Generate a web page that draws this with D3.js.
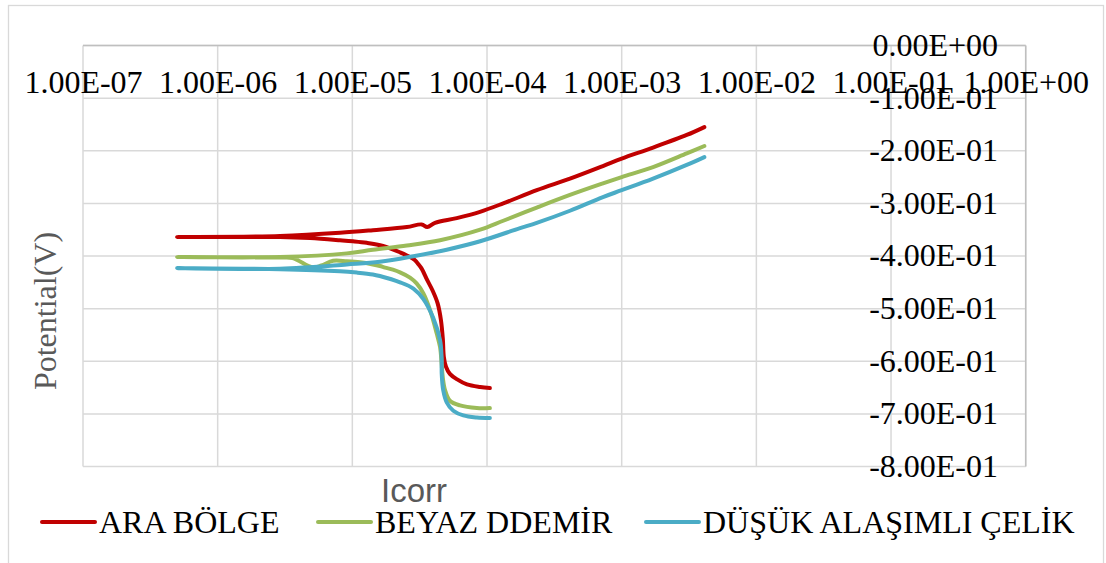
<!DOCTYPE html>
<html><head><meta charset="utf-8">
<script src="https://cdn.jsdelivr.net/npm/d3@7"></script>
<style>body{margin:0;background:#fff}svg{display:block}</style>
</head><body><svg id="c" width="1106" height="563"></svg>
<script>
// ---- data ----
const xTickValues = [1e-7, 1e-6, 1e-5, 1e-4, 1e-3, 1e-2, 1e-1, 1];
const xTickLabels = ["1.00E-07","1.00E-06","1.00E-05","1.00E-04","1.00E-03","1.00E-02","1.00E-01","1.00E+00"];
const yTickValues = [0, -0.1, -0.2, -0.3, -0.4, -0.5, -0.6, -0.7, -0.8];
const yTickLabels = ["0.00E+00","-1.00E-01","-2.00E-01","-3.00E-01","-4.00E-01","-5.00E-01","-6.00E-01","-7.00E-01","-8.00E-01"];
const seriesNames = ["ARA BÖLGE", "BEYAZ DDEMİR", "DÜŞÜK ALAŞIMLI ÇELİK"];
const xTitle = "Icorr";
const yTitle = "Potential(V)";

const araCurrent = [1.05e-4, 8.9e-5, 7.1e-5, 5.96e-5, 5.3e-5, 4.95e-5, 4.78e-5, 4.7e-5, 4.55e-5, 4.3e-5, 3.95e-5, 3.6e-5, 3.27e-5, 3.08e-5, 2.92e-5, 2.54e-5, 2.26e-5, 1.69e-5, 1.28e-5, 1.01e-5, 8.1e-6, 4.85e-6, 2.9e-6, 5.0e-7,
  2.9e-6, 8.1e-6, 1.42e-5, 2.54e-5, 3.27e-5, 3.6e-5, 4.11e-5, 5.96e-5, 8.87e-5, 1.32e-4, 2.34e-4, 4.13e-4, 7.26e-4, 1.0e-3, 1.71e-3, 3.04e-3, 4.11e-3];
const araPotential = [-0.651, -0.649, -0.644, -0.634, -0.624, -0.610, -0.592, -0.558, -0.522, -0.490, -0.466, -0.446, -0.424, -0.415, -0.408, -0.399, -0.393, -0.381, -0.375, -0.372, -0.370, -0.366, -0.364, -0.364,
  -0.362, -0.356, -0.351, -0.345, -0.340, -0.345, -0.337, -0.328, -0.316, -0.300, -0.275, -0.253, -0.229, -0.215, -0.194, -0.170, -0.155];

const beyazCurrent = [1.05e-4, 8.4e-5, 6.3e-5, 5.3e-5, 4.88e-5, 4.69e-5, 4.6e-5, 4.48e-5, 4.23e-5, 3.78e-5, 3.37e-5, 3.0e-5, 2.68e-5, 2.26e-5, 2.0e-5, 1.75e-5, 1.6e-5, 1.42e-5, 1.14e-5, 9.1e-6, 7.2e-6, 5.9e-6, 5.1e-6, 3.6e-6, 2.9e-6, 5.0e-7,
  2.9e-6, 9.1e-6, 1.42e-5, 2.54e-5, 4.48e-5, 8.9e-5, 1.32e-4, 2.34e-4, 4.13e-4, 7.26e-4, 1.0e-3, 1.71e-3, 3.04e-3, 4.11e-3];
const beyazPotential = [-0.689, -0.689, -0.684, -0.675, -0.655, -0.630, -0.604, -0.573, -0.547, -0.503, -0.471, -0.452, -0.441, -0.431, -0.426, -0.422, -0.419, -0.416, -0.412, -0.410, -0.409, -0.418, -0.422, -0.404, -0.403, -0.402,
  -0.402, -0.395, -0.388, -0.380, -0.370, -0.350, -0.333, -0.308, -0.284, -0.262, -0.250, -0.231, -0.205, -0.191];

const dusukCurrent = [1.05e-4, 8.4e-5, 6.67e-5, 5.62e-5, 5.02e-5, 4.73e-5, 4.61e-5, 4.6e-5, 4.48e-5, 3.99e-5, 3.37e-5, 2.84e-5, 2.26e-5, 1.6e-5, 1.42e-5, 1.08e-5, 8.1e-6, 2.9e-6, 5.0e-7,
  2.9e-6, 9.1e-6, 1.6e-5, 2.84e-5, 5.02e-5, 8.9e-5, 1.76e-4, 2.34e-4, 4.13e-4, 7.26e-4, 1.0e-3, 1.71e-3, 3.04e-3, 4.11e-3];
const dusukPotential = [-0.708, -0.707, -0.703, -0.694, -0.678, -0.655, -0.624, -0.592, -0.560, -0.518, -0.482, -0.462, -0.450, -0.438, -0.435, -0.4315, -0.429, -0.425, -0.423,
  -0.424, -0.416, -0.411, -0.4005, -0.388, -0.372, -0.347, -0.337, -0.314, -0.288, -0.275, -0.253, -0.227, -0.212];

const seriesColors = ["#C00000", "#9BBB59", "#4BACC6"];

// ---- layout ----
const svg = d3.select("#c");
const W = 1106, H = 563;
const plot = {left: 83, right: 1025.7, top: 45.5, bottom: 466.5};
const x = d3.scaleLog().domain([1e-7, 1]).range([plot.left, plot.right]);
const y = d3.scaleLinear().domain([-0.8, 0]).range([plot.bottom, plot.top]);
const serif = "'Liberation Serif','Times New Roman',serif";
const fs = 32;

svg.append("rect").attr("width", W).attr("height", H).attr("fill", "#fff");
svg.append("rect").attr("x", 8.5).attr("y", 5.5).attr("width", 1095).attr("height", 620)
  .attr("fill", "none").attr("stroke", "#d9d9d9").attr("stroke-width", 1.3);

// gridlines
const grid = svg.append("g").attr("stroke", "#d9d9d9").attr("stroke-width", 1.5);
grid.selectAll("line.v").data(xTickValues).join("line")
  .attr("x1", d => x(d)).attr("x2", d => x(d)).attr("y1", plot.top).attr("y2", plot.bottom);
grid.selectAll("line.h").data(yTickValues).join("line")
  .attr("x1", plot.left).attr("x2", plot.right).attr("y1", d => y(d)).attr("y2", d => y(d));
// axis lines (x axis at y=0 on top, y axis on right)
svg.append("line").attr("x1", plot.left).attr("x2", plot.right).attr("y1", y(0)).attr("y2", y(0))
  .attr("stroke", "#bfbfbf").attr("stroke-width", 1.5);
svg.append("line").attr("x1", x(1)).attr("x2", x(1)).attr("y1", plot.top).attr("y2", plot.bottom)
  .attr("stroke", "#bfbfbf").attr("stroke-width", 1.5);

// series
const line = d3.line().x(d => x(d[0])).y(d => y(d[1])).curve(d3.curveCatmullRom.alpha(0.5));
const series = [
  d3.zip(araCurrent, araPotential),
  d3.zip(beyazCurrent, beyazPotential),
  d3.zip(dusukCurrent, dusukPotential)
];
svg.append("g").selectAll("path").data(series).join("path")
  .attr("d", line).attr("fill", "none")
  .attr("stroke", (d, i) => seriesColors[i]).attr("stroke-width", 4)
  .attr("stroke-linecap", "round").attr("stroke-linejoin", "round");

// x axis labels
const xAxis = d3.axisBottom(x).tickValues(xTickValues)
  .tickFormat((d, i) => xTickLabels[i]).tickSize(0).tickSizeOuter(0);
const gx = svg.append("g").attr("transform", `translate(0,${y(0)})`).call(xAxis);
gx.select(".domain").remove();
gx.selectAll("text").attr("y", 47.8).attr("dy", 0)
  .attr("font-family", serif).attr("font-size", fs).attr("fill", "#000");

// y axis labels
const yAxis = d3.axisLeft(y).tickValues(yTickValues)
  .tickFormat((d, i) => yTickLabels[i]).tickSize(0).tickSizeOuter(0).tickPadding(0);
const gy = svg.append("g").attr("transform", `translate(998,0)`).call(yAxis);
gy.select(".domain").remove();
gy.selectAll("text").attr("x", 0).attr("dy", "0.31em")
  .attr("font-family", serif).attr("font-size", fs).attr("fill", "#000");

// axis titles
svg.append("text").attr("transform", "translate(56,311) rotate(-90)")
  .attr("text-anchor", "middle").attr("font-family", serif).attr("font-size", fs)
  .attr("fill", "#595959").text(yTitle);
svg.append("text").attr("x", 414).attr("y", 502).attr("text-anchor", "middle")
  .attr("font-family", "'Liberation Sans',Arial,sans-serif").attr("font-size", 33)
  .attr("fill", "#595959").text(xTitle);

// legend
const legendX = [42, 318, 646];
const lg = svg.append("g").selectAll("g").data(seriesNames).join("g")
  .attr("transform", (d, i) => `translate(${legendX[i]},0)`);
lg.append("line").attr("x1", 0).attr("x2", 53).attr("y1", 522).attr("y2", 522)
  .attr("stroke", (d, i) => seriesColors[i]).attr("stroke-width", 4).attr("stroke-linecap", "round");
lg.append("text").attr("x", 57).attr("y", 533).attr("font-family", serif).attr("font-size", fs)
  .attr("fill", "#000").text(d => d);
</script></body></html>
